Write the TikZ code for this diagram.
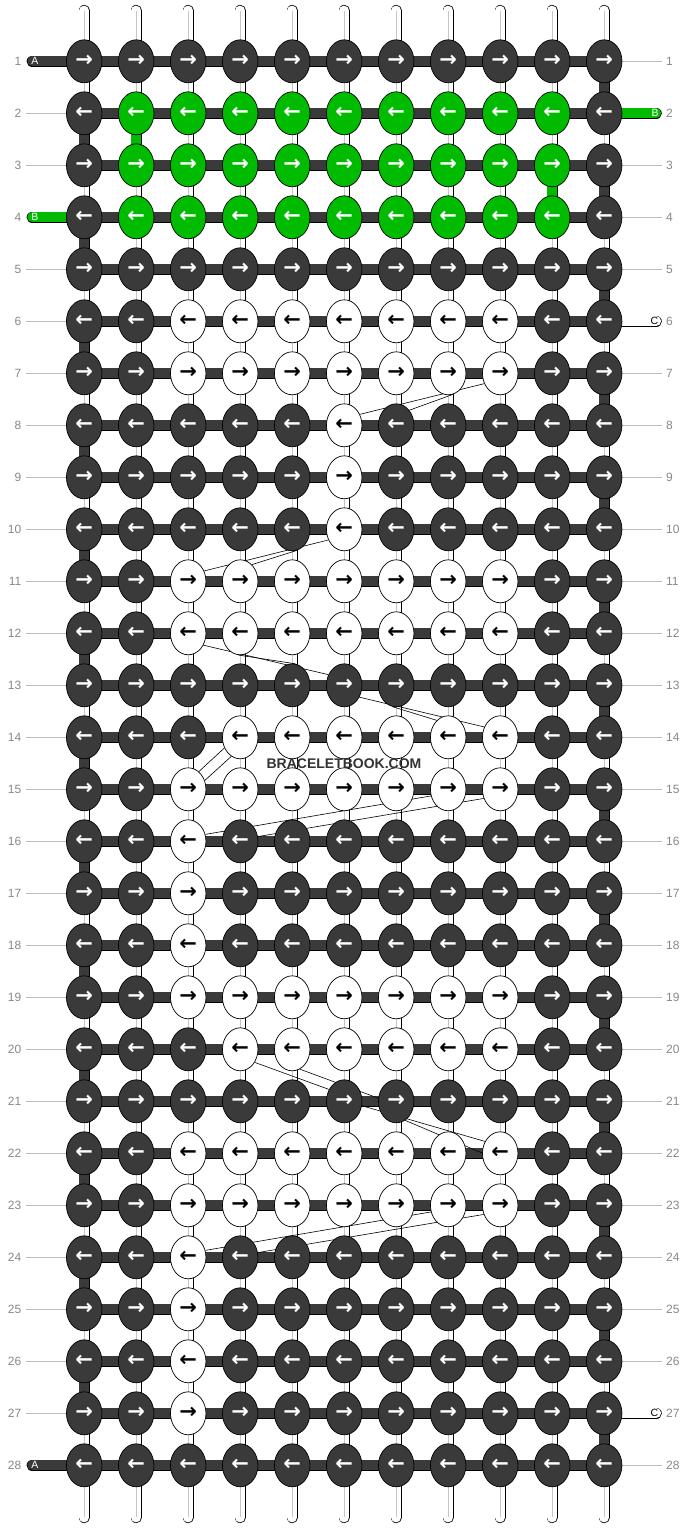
\documentclass[tikz,border=0pt]{standalone}
\usepackage{fontspec}
\setmainfont{Liberation Sans}
\newfontfamily\arrowfont{DejaVu Sans}
\usetikzlibrary{shapes.geometric}

\definecolor{knotdark}{RGB}{58,58,58}
\definecolor{knotgreen}{RGB}{0,187,0}
\definecolor{guidegray}{RGB}{190,190,190}
\definecolor{numgray}{RGB}{136,136,136}

\pgfdeclarelayer{paper}
\pgfdeclarelayer{strings}
\pgfdeclarelayer{threads}
\pgfsetlayers{paper,strings,threads,main}

\tikzset{
  knot/.style={ellipse, draw=black, line width=0.7pt, minimum width=35.5pt,
    minimum height=43pt, inner sep=0pt,
    font=\arrowfont\bfseries\fontsize{21}{21}\selectfont},
  kdk/.style={knot, fill=knotdark, text=white},
  kgr/.style={knot, fill=knotgreen, text=white},
  kwt/.style={knot, fill=white, text=black},
  strand/.style={draw=black, line width=0.7pt, double distance=10pt,
    shorten <=-3pt, shorten >=-3pt},
  bar/.style={strand, double=knotdark},
  vwt/.style={strand, double=white},
  vdk/.style={strand, double=knotdark},
  vgr/.style={strand, double=knotgreen},
  core/.style={draw=gray!45, line width=1pt, shorten <=-3pt, shorten >=-3pt},
  nocore/.style={draw=none},
  tube/.style={draw=black, line width=0.7pt, double=white, double distance=10pt,
    line cap=round, shorten >=-3pt},
  tubecore/.style={draw=gray!45, line width=1pt, shorten >=-3pt},
  tail/.style={draw=black, line width=0.7pt, double=#1, double distance=10pt,
    line cap=round, shorten >=-3pt},
  guide/.style={draw=guidegray, line width=0.8pt},
  thread/.style={draw=black, line width=0.6pt},
  rownum/.style={text=numgray, font=\fontsize{12}{12}\selectfont, inner sep=0pt},
  tailtag/.style={font=\fontsize{10.5}{10.5}\selectfont, inner sep=0pt},
  sitemark/.style={text=black!80, font=\bfseries\fontsize{14}{14}\selectfont, inner sep=0pt}
}

\begin{document}
\begin{tikzpicture}[x=1pt, y=-1pt]
  \useasboundingbox (0,0) rectangle (688,1528);

  % knots: row / colour / first and last coloured column
  \foreach \r/\kc/\a/\b in {1/kdk/0/0, 2/kgr/2/10, 3/kgr/2/10, 4/kgr/2/10,
      5/kdk/0/0, 6/kwt/3/9, 7/kwt/3/9, 8/kwt/6/6, 9/kwt/6/6, 10/kwt/6/6,
      11/kwt/3/9, 12/kwt/3/9, 13/kdk/0/0, 14/kwt/4/9, 15/kwt/3/9,
      16/kwt/3/3, 17/kwt/3/3, 18/kwt/3/3, 19/kwt/3/9, 20/kwt/4/9,
      21/kdk/0/0, 22/kwt/3/9, 23/kwt/3/9, 24/kwt/3/3, 25/kwt/3/3,
      26/kwt/3/3, 27/kwt/3/3, 28/kdk/0/0}{
    \pgfmathtruncatemacro\odd{mod(\r,2)}
    \ifnum\odd=1 \def\arr{→}\else\def\arr{←}\fi
    \foreach \c in {1,...,11}{
      \def\ks{\kc}
      \ifnum\c<\a \def\ks{kdk}\fi
      \ifnum\c>\b \def\ks{kdk}\fi
      \node[\ks] (k\r-\c) at ({84.2+52*(\c-1)},{61.3+52*(\r-1)}) {\arr};
    }
    \node[rownum, anchor=east] (nl\r) at (21.5,{61.3+52*(\r-1)}) {\r};
    \node[rownum, anchor=west] (nr\r) at (666,{61.3+52*(\r-1)}) {\r};
  }

  % tail ends
  \coordinate (ta1) at (32.3,61.3);
  \coordinate (ta28) at (32.3,1465.3);
  \coordinate (tb4) at (32.3,217.3);
  \coordinate (tb2) at (656.1,113.3);
  \coordinate (tc6) at (656.1,321.3);
  \coordinate (tc27) at (656.1,1413.3);
  \node[tailtag, text=white] (la1) at (35,61.3) {A};
  \node[tailtag, text=white] (la28) at (35,1465.3) {A};
  \node[tailtag, text=white] (lb4) at (35,217.3) {B};
  \node[tailtag, text=white] (lb2) at (655,113.3) {B};
  \node[tailtag, text=black] (lc6) at (654.5,321.3) {C};
  \node[tailtag, text=black] (lc27) at (654.5,1413.3) {C};

  \node[sitemark] (site) at (344,763.5) {BRACELETBOOK.COM};

  \begin{pgfonlayer}{paper}
    \fill[white] (0,0) rectangle (688,1528);
  \end{pgfonlayer}

  \begin{pgfonlayer}{strings}
    % guide lines to the row numbers
    \foreach \r in {2,3,5,6,...,27}{
      \coordinate (gl\r) at (26,{61.3+52*(\r-1)});
      \draw[guide] (gl\r) -- (k\r-1);
    }
    \foreach \r in {1,3,4,5,7,8,...,26,28}{
      \coordinate (gr\r) at (662,{61.3+52*(\r-1)});
      \draw[guide] (k\r-11) -- (gr\r);
    }
    % horizontal strands
    \foreach \r in {1,...,28}
      \draw[bar] (k\r-1) -- (k\r-11);
    % vertical strands between rows
    \foreach \r in {1,...,27}{
      \pgfmathtruncatemacro\rr{\r+1}
      \pgfmathtruncatemacro\odd{mod(\r,2)}
      \foreach \c in {1,...,11}{
        \def\vs{vwt}\def\vc{core}
        \ifnum\c=1 \ifnum\odd=0 \def\vs{vdk}\def\vc{nocore}\fi\fi
        \ifnum\c=11 \ifnum\odd=1 \def\vs{vdk}\def\vc{nocore}\fi\fi
        \ifnum\c=2 \ifnum\r=2 \def\vs{vgr}\def\vc{nocore}\fi\fi
        \ifnum\c=10 \ifnum\r=3 \def\vs{vgr}\def\vc{nocore}\fi\fi
        \draw[\vs] (k\r-\c) -- (k\rr-\c);
        \draw[\vc] (k\r-\c) -- (k\rr-\c);
      }
    }
    % loose ends top and bottom
    \foreach \c in {1,...,11}{
      \coordinate (tt\c) at ({84.2+52*(\c-1)},10.6);
      \coordinate (bt\c) at ({84.2+52*(\c-1)},1517.4);
      \draw[tube] (tt\c) -- (k1-\c);
      \draw[tubecore] (tt\c) -- (k1-\c);
      \draw[tube] (bt\c) -- (k28-\c);
      \draw[tubecore] (bt\c) -- (k28-\c);
    }
    \draw[tail=knotdark] (ta1) -- (k1-1);
    \draw[tail=knotdark] (ta28) -- (k28-1);
    \draw[tail=knotgreen] (tb4) -- (k4-1);
    \draw[tail=knotgreen] (tb2) -- (k2-11);
    \draw[tail=white] (tc6) -- (k6-11);
    \draw[tail=white] (tc27) -- (k27-11);
  \end{pgfonlayer}

  \begin{pgfonlayer}{threads}
    % strings carried behind the knots
    \draw[thread] (k8-6.35) -- (k7-9.213);
    \draw[thread] (k8-7.49) -- (k7-8.284);
    \draw[thread] (k11-3.33) -- (k10-6.214);
    \draw[thread] (k11-4.55) -- (k10-5.282);
    \draw[thread] (k12-3.322) -- (k13-6.146);
    \draw[thread] (k13-6.322) -- (k14-9.147);
    \draw[thread] (k12-4.265) -- (k13-5.82);
    \draw[thread] (k13-7.259) -- (k14-8.124);
    \draw[thread] (k15-3.59) -- (k14-4.214);
    \draw[thread] (k15-3.28) -- (k14-4.245);
    \draw[thread] (k16-3.22) -- (k15-8.201);
    \draw[thread] (k16-4.15) -- (k15-9.209);
    \draw[thread] (k20-4.318) -- (k21-6.142);
    \draw[thread] (k20-5.291) -- (k21-7.170);
    \draw[thread] (k21-6.346) -- (k22-9.142);
    \draw[thread] (k21-7.295) -- (k22-9.179);
    \draw[thread] (k24-3.22) -- (k23-8.201);
    \draw[thread] (k24-4.15) -- (k23-9.209);
  \end{pgfonlayer}
\end{tikzpicture}
\end{document}
